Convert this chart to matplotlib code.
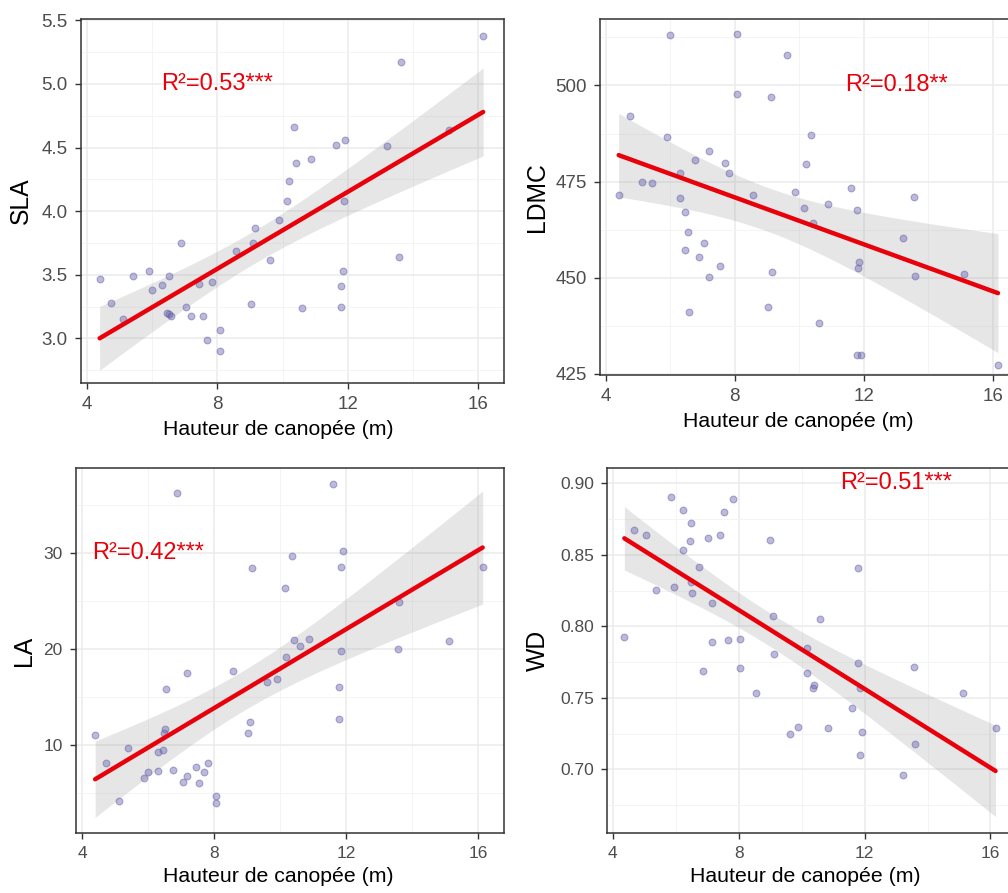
import numpy as np
import matplotlib
matplotlib.use('Agg')
import matplotlib.pyplot as plt
from matplotlib.ticker import MultipleLocator, FormatStrFormatter

plt.rcParams['font.family'] = ['Liberation Sans', 'DejaVu Sans']

# canopy height (m) and trait values
sla_x = [4.39, 4.74, 5.10, 5.42, 5.89, 5.99, 6.30, 6.52, 6.45, 6.52, 6.57, 6.89, 7.05,
         7.19, 7.45, 7.55, 7.68, 7.83, 8.07, 8.07, 8.57, 9.08, 9.14, 9.02, 9.62, 9.88,
         10.13, 10.20, 10.34, 10.41, 10.60, 10.87, 11.63, 11.92, 11.88, 11.86, 11.79,
         11.80, 13.20, 13.58, 13.62, 15.09, 16.15]
sla_y = [3.47, 3.28, 3.15, 3.49, 3.53, 3.38, 3.42, 3.49, 3.20, 3.19, 3.18, 3.75, 3.25,
         3.18, 3.43, 3.18, 2.99, 3.44, 3.07, 2.90, 3.69, 3.75, 3.87, 3.27, 3.62, 3.93,
         4.08, 4.24, 4.66, 4.38, 3.24, 4.41, 4.52, 4.56, 4.08, 3.53, 3.41,
         3.25, 4.51, 3.64, 5.17, 4.64, 5.38]

ldmc_x = [4.40, 4.75, 5.11, 5.43, 5.90, 6.00, 6.30, 6.30, 6.46, 6.54, 6.46, 6.58, 6.77,
          6.90, 7.06, 7.19, 7.19, 7.55, 7.70, 7.83, 8.07, 8.07, 8.57, 9.02, 9.11, 9.14,
          9.61, 9.88, 10.16, 10.21, 10.37, 10.42, 10.60, 10.88, 11.60, 11.80, 11.86,
          11.83, 11.80, 11.90, 13.21, 13.57, 13.60, 15.12, 16.16]
ldmc_y = [471.6, 492.0, 474.8, 474.6, 486.6, 513.0, 477.2, 470.8, 467.0, 461.9, 457.1,
          441.0, 480.7, 455.3, 459.0, 482.9, 450.3, 453.0, 479.8, 477.2, 513.3, 497.7,
          471.4, 442.3, 497.0, 451.4, 507.8, 472.2, 468.2, 479.5, 487.1, 464.3, 438.3,
          469.2, 473.3, 467.5, 454.2, 452.5, 429.9, 429.9, 460.3, 471.0, 450.5, 450.9,
          427.3]

la_x = [4.40, 4.73, 5.11, 5.41, 5.88, 5.99, 6.30, 6.29, 6.47, 6.51, 6.48, 6.56, 6.77,
        6.89, 7.06, 7.18, 7.18, 7.46, 7.56, 7.69, 7.82, 8.06, 8.07, 8.58, 9.02, 9.10,
        9.14, 9.62, 9.90, 10.16, 10.19, 10.36, 10.42, 10.60, 10.87, 11.60, 11.78, 11.79,
        11.84, 11.86, 11.92, 13.60, 13.56, 15.11, 16.14]
la_y = [11.07, 8.16, 4.18, 9.69, 6.60, 7.23, 7.33, 9.27, 9.48, 11.70, 11.2, 15.79, 7.40,
        36.16, 6.19, 6.81, 17.45, 7.71, 6.02, 7.23, 8.16, 4.70, 4.00, 17.66, 11.21, 12.39,
        28.40, 16.58, 16.86, 26.35, 19.15, 29.68, 20.91, 20.29, 21.02, 37.1, 16.0, 12.67,
        19.77, 28.54, 30.2, 24.83, 19.94, 20.78, 28.5]

wd_x = [4.37, 4.68, 5.07, 5.37, 5.85, 5.96, 6.24, 6.24, 6.49, 6.44, 6.53, 6.50, 6.74,
        6.88, 7.04, 7.16, 7.16, 7.41, 7.54, 7.66, 7.83, 8.05, 8.05, 8.55, 9.01, 9.08,
        9.13, 9.62, 9.88, 10.17, 10.18, 10.35, 10.40, 10.59, 10.85, 11.61, 11.78, 11.79,
        11.84, 11.92, 11.87, 13.21, 13.56, 13.61, 15.12, 16.16]
wd_y = [0.7927, 0.8673, 0.8641, 0.8256, 0.8902, 0.8273, 0.8813, 0.8536, 0.8720, 0.8597,
        0.8231, 0.831, 0.8415, 0.7690, 0.8617, 0.8165, 0.7888, 0.8636, 0.8802, 0.7902,
        0.8893, 0.7909, 0.7706, 0.7531, 0.8604, 0.8074, 0.7804, 0.7247, 0.7296, 0.7850,
        0.7673, 0.7571, 0.7592, 0.8051, 0.7291, 0.7427, 0.7746, 0.8406, 0.7566, 0.7263,
        0.7098, 0.6958, 0.7715, 0.7177, 0.7536, 0.7291]

labels = ['R²=0.53***', 'R²=0.18**', 'R²=0.42***', 'R²=0.51***']
label_pos = [(8, 5.0), (13, 500), (6, 30), (13, 0.90)]
y_names = ['SLA', 'LDMC', 'LA', 'WD']


def smooth(ax, x, y):
    x = np.asarray(x)
    y = np.asarray(y)
    slope, icpt = np.polyfit(x, y, 1)
    xs = np.linspace(x.min(), x.max(), 100)
    fit = icpt + slope * xs
    resid = y - (icpt + slope * x)
    n = len(x)
    s = np.sqrt(np.sum(resid ** 2) / (n - 2))
    se = s * np.sqrt(1.0 / n + (xs - x.mean()) ** 2 / np.sum((x - x.mean()) ** 2))
    t = 2.017
    ax.fill_between(xs, fit - t * se, fit + t * se, color='#999999', alpha=0.24,
                    linewidth=0, zorder=2)
    ax.plot(xs, fit, color='#E8000B', linewidth=3.2, zorder=4, solid_capstyle='round')


def style(ax, ylim, ymajor, yminor, fmt, tick_size):
    ax.set_xlim(3.82, 16.78)
    ax.set_ylim(*ylim)
    ax.xaxis.set_major_locator(MultipleLocator(4))
    ax.xaxis.set_minor_locator(MultipleLocator(2))
    ax.yaxis.set_major_locator(MultipleLocator(ymajor))
    ax.yaxis.set_minor_locator(MultipleLocator(yminor))
    ax.yaxis.set_major_formatter(FormatStrFormatter(fmt))
    ax.grid(True, which='major', color='#EBEBEB', linewidth=1.1, zorder=0)
    ax.grid(True, which='minor', color='#F3F3F3', linewidth=0.6, zorder=0)
    ax.set_axisbelow(True)
    ax.tick_params(which='major', length=4.5, width=1, color='#333333',
                   labelcolor='#4D4D4D', labelsize=tick_size, pad=5)
    ax.tick_params(which='minor', length=0)
    for sp in ax.spines.values():
        sp.set_color('#333333')
        sp.set_linewidth(1.1)


fig = plt.figure(figsize=(10.08, 8.93), dpi=100)
ax_tl = fig.add_axes([0.0804, 0.5711, 0.4193, 0.4076])
ax_tr = fig.add_axes([0.5952, 0.5801, 0.4147, 0.3987])
ax_bl = fig.add_axes([0.0754, 0.0672, 0.4244, 0.4087])
ax_br = fig.add_axes([0.6022, 0.0672, 0.4048, 0.4087])

# axes, x, y, ylim, major, minor, format, tick size, xlabel coords, ylabel x
panels = [
    (ax_tl, sla_x, sla_y, (2.65, 5.51), 0.5, 0.25, '%.1f', 13.5, (0.466, -0.101), -0.114),
    (ax_tr, ldmc_x, ldmc_y, (424.7, 517.3), 25, 12.5, '%d', 13.5, (0.474, -0.103), -0.122),
    (ax_bl, la_x, la_y, (0.85, 38.8), 10, 5, '%d', 12.5, (0.472, -0.092), -0.0935),
    (ax_br, wd_x, wd_y, (0.6555, 0.9107), 0.05, 0.025, '%.2f', 12.5, (0.486, -0.092), -0.141),
]

for i, (ax, x, y, ylim, ymaj, ymin, fmt, tsz, xl, yl) in enumerate(panels):
    ax.scatter(x, y, s=24, color='#6A66B0', alpha=0.45, edgecolors='#5A56A0',
               linewidths=0.8, zorder=3)
    smooth(ax, x, y)
    style(ax, ylim, ymaj, ymin, fmt, tsz)
    ax.set_xlabel('Hauteur de canopée (m)', fontsize=15.3)
    ax.xaxis.set_label_coords(*xl)
    ax.set_ylabel(y_names[i], fontsize=17.8)
    ax.yaxis.set_label_coords(yl, 0.5)
    ax.text(label_pos[i][0], label_pos[i][1], labels[i], color='#E8000B',
            fontsize=17, ha='center', va='center', zorder=5)

fig.savefig('out.png', dpi=100)
